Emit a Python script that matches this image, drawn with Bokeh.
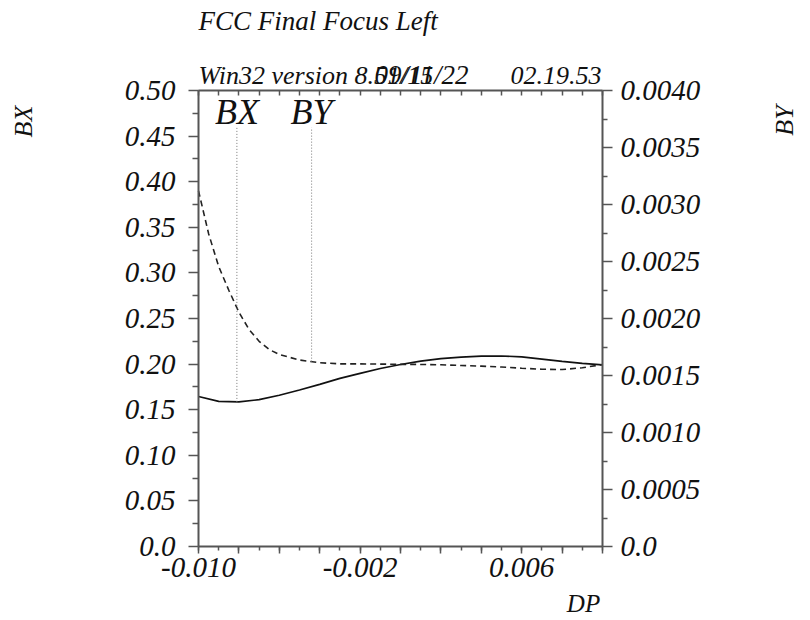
from bokeh.plotting import figure
from bokeh.models import Range1d, LinearAxis, FixedTicker, CustomJSTickFormatter, Label
from bokeh.embed import file_html
from bokeh.resources import INLINE
import numpy as np

# ---- data -------------------------------------------------------------
# momentum deviation grid for the horizontal chromatic amplitude
DP_X = [-0.010, -0.009, -0.008, -0.007, -0.006, -0.005, -0.004, -0.003, -0.002,
        -0.001, 0.000, 0.001, 0.002, 0.003, 0.004, 0.005, 0.006, 0.007, 0.008,
        0.009, 0.010]
BX = [0.1645, 0.1592, 0.1585, 0.1610, 0.1658, 0.1716, 0.1778, 0.1843, 0.1898,
      0.1952, 0.1996, 0.2032, 0.2060, 0.2077, 0.2087, 0.2089, 0.2080, 0.2055,
      0.2030, 0.2008, 0.1992]

# finer grid at the low-momentum end where BY changes quickly
DP_Y = [-0.010, -0.0095, -0.009, -0.0085, -0.008, -0.0075, -0.007, -0.0065,
        -0.006, -0.005, -0.004, -0.003, -0.002, -0.001, 0.000, 0.001, 0.002,
        0.003, 0.004, 0.005, 0.006, 0.007, 0.008, 0.009, 0.010]
BY = [0.003120, 0.002744, 0.002456, 0.002248, 0.002056, 0.001904, 0.001800,
      0.001728, 0.001684, 0.001636, 0.001612, 0.001602, 0.001602, 0.001600,
      0.001598, 0.001597, 0.001594, 0.001588, 0.001582, 0.001574, 0.001564,
      0.001555, 0.001552, 0.001568, 0.001596]

# curve tags and where they sit along DP
TAGS = ["BX", "BY"]
TAG_DP = [-0.0081, -0.0044]

# axis ticks
DP_TICKS = [-0.010, -0.008, -0.006, -0.004, -0.002, 0.000, 0.002, 0.004, 0.006,
            0.008, 0.010]
DP_MINOR = [-0.010, -0.009, -0.008, -0.007, -0.006, -0.005, -0.004, -0.003,
            -0.002, -0.001, 0.000, 0.001, 0.002, 0.003, 0.004, 0.005, 0.006,
            0.007, 0.008, 0.009, 0.010]
DP_LABELLED = [-0.010, -0.002, 0.006]
BX_TICKS = [0.0, 0.05, 0.10, 0.15, 0.20, 0.25, 0.30, 0.35, 0.40, 0.45, 0.50]
BX_MINOR = [0.025, 0.075, 0.125, 0.175, 0.225, 0.275, 0.325, 0.375, 0.425, 0.475]
BY_TICKS = [0.0, 0.0005, 0.0010, 0.0015, 0.0020, 0.0025, 0.0030, 0.0035, 0.0040]
BY_MINOR = [0.00025, 0.00075, 0.00125, 0.00175, 0.00225, 0.00275, 0.00325, 0.00375]

TITLE = "FCC Final Focus Left"
VERSION = "Win32 version 8.51/15"
DATE = "09/11/22"
TIME = "02.19.53"

# ---- geometry / style ---------------------------------------------------
W, H = 810, 620
FL, FR, FT, FB = 198, 602, 90, 546          # plot box edges in canvas px
X0, X1 = -0.010, 0.010                      # DP span of the plot box
Y0, Y1 = 0.0, 0.50                          # BX span of the plot box
B0, B1 = 0.0, 0.0040                        # BY span of the plot box
SERIF = "Liberation Serif"
INK = "#111111"
AXIS = "#555555"
TICK_FONT = "29px"

# the frame fills the whole canvas; the boxed axes sit at fixed locations
XPX = (X1 - X0) / (FR - FL)
YPX = (Y1 - Y0) / (FB - FT)
BPX = (B1 - B0) / (FB - FT)


def dx(px):
    """canvas x pixel -> DP"""
    return X0 + (px - FL) * XPX


def dy(py):
    """canvas y pixel -> BX"""
    return Y0 + (FB - py) * YPX


p = figure(width=W, height=H, output_backend="svg", toolbar_location=None,
           x_range=Range1d(dx(0), dx(W)), y_range=Range1d(dy(H), dy(0)),
           x_axis_location=None, y_axis_location=None,
           min_border=0, min_border_left=0, min_border_right=0,
           min_border_top=0, min_border_bottom=0)
p.extra_y_ranges = {"by": Range1d(B0 - (H - FB) * BPX, B1 + FT * BPX)}
p.grid.visible = False
p.outline_line_color = None
p.background_fill_color = "white"
p.border_fill_color = "white"


def style(ax, size=TICK_FONT):
    ax.axis_line_color = AXIS
    ax.axis_line_width = 2
    ax.major_tick_line_color = AXIS
    ax.major_tick_line_width = 1.5
    ax.minor_tick_line_color = AXIS
    ax.minor_tick_line_width = 1.5
    ax.major_label_text_font = SERIF
    ax.major_label_text_font_style = "italic"
    ax.major_label_text_font_size = size
    ax.major_label_text_color = INK


# bottom DP axis, labels only on every fourth major tick
bottom = LinearAxis(fixed_location=Y0, bounds=(X0, X1),
                    ticker=FixedTicker(ticks=DP_TICKS, minor_ticks=DP_MINOR),
                    formatter=CustomJSTickFormatter(
                        args=dict(shown=DP_LABELLED),
                        code="return shown.some(v => Math.abs(v - tick) < 1e-9) ? tick.toFixed(3) : '';"))
style(bottom)
bottom.major_tick_in, bottom.major_tick_out = 0, 7
bottom.minor_tick_in, bottom.minor_tick_out = 0, 4
bottom.major_label_standoff = 4
p.add_layout(bottom, "below")

# top mirror axis with inward ticks only
top = LinearAxis(fixed_location=Y1, bounds=(X0, X1),
                 ticker=FixedTicker(ticks=DP_MINOR),
                 formatter=CustomJSTickFormatter(code="return '';"))
style(top, "1px")
top.major_tick_in, top.major_tick_out = 5, 0
top.minor_tick_line_color = None
p.add_layout(top, "above")

# left BX axis
left = LinearAxis(fixed_location=X0, bounds=(Y0, Y1),
                  ticker=FixedTicker(ticks=BX_TICKS, minor_ticks=BX_MINOR),
                  formatter=CustomJSTickFormatter(
                      code="return tick == 0 ? '0.0' : tick.toFixed(2);"))
style(left)
left.major_tick_in, left.major_tick_out = 0, 10
left.minor_tick_in, left.minor_tick_out = 0, 6
left.major_label_standoff = 13
p.add_layout(left, "left")

# right BY axis
right = LinearAxis(y_range_name="by", fixed_location=X1, bounds=(B0, B1),
                   ticker=FixedTicker(ticks=BY_TICKS, minor_ticks=BY_MINOR),
                   formatter=CustomJSTickFormatter(
                       code="return tick == 0 ? '0.0' : tick.toFixed(4);"))
style(right)
right.major_tick_in, right.major_tick_out = 0, 10
right.minor_tick_in, right.minor_tick_out = 0, 5
right.major_label_standoff = 8
p.add_layout(right, "right")

# ---- curves -------------------------------------------------------------
p.line(DP_X, BX, line_color=INK, line_width=1.7)
p.line(DP_Y, BY, y_range_name="by", line_color="#222222", line_width=1.6,
       line_dash="6 4")

# tag markers: dotted drop lines from each tag down to its curve
tag_top = dy(127)
bx_at = float(np.interp(TAG_DP[0], DP_X, BX))
by_at = float(np.interp(TAG_DP[1], DP_Y, BY))
p.segment(x0=[TAG_DP[0]], y0=[bx_at], x1=[TAG_DP[0]], y1=[tag_top],
          line_color="#777777", line_width=1, line_dash="1 2")
p.segment(x0=[TAG_DP[1]], y0=[by_at], x1=[TAG_DP[1]], y1=[tag_top * B1 / Y1],
          y_range_name="by", line_color="#777777", line_width=1, line_dash="1 2")
for name, xd in zip(TAGS, TAG_DP):
    p.add_layout(Label(x=xd, y=dy(111.5), text=name, text_align="center",
                       text_baseline="middle", text_font=SERIF,
                       text_font_style="italic", text_font_size="36px",
                       text_color=INK))


# ---- texts around the plot box (positions give the text's vertical middle) ----
def note(text, px, py, size, align="left", angle=0.0):
    p.add_layout(Label(x=dx(px), y=dy(py), text=text, text_align=align,
                       text_baseline="middle", angle=angle, text_font=SERIF,
                       text_font_style="italic", text_font_size=size,
                       text_color=INK))


note(TITLE, 198, 20.5, "27px")
note(VERSION, 198, 74.5, "26px")
note(DATE, 374, 74.5, "27px")
note(TIME, 601, 74.5, "26px", align="right")
note("BX", 23, 121, "26px", align="center", angle=np.pi / 2)
note("BY", 784, 120, "26px", align="center", angle=np.pi / 2)
note("DP", 583, 603, "25px", align="center")

open("out.html", "w").write(file_html(p, INLINE))
